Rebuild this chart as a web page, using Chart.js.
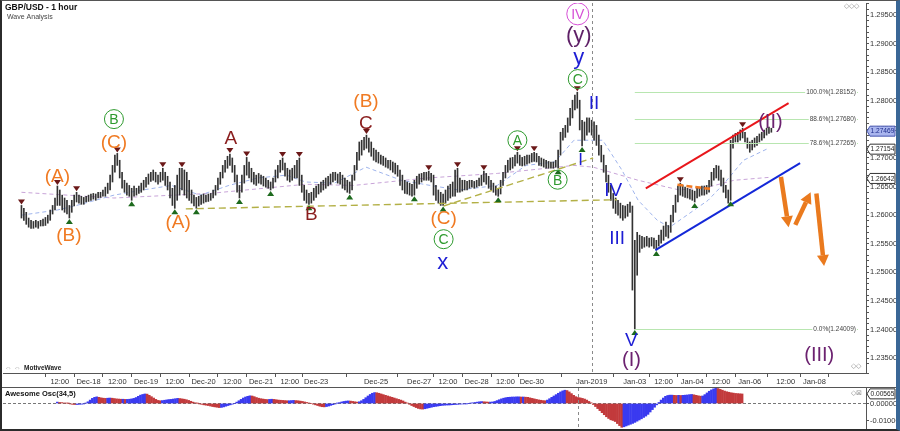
<!DOCTYPE html>
<html>
<head>
<meta charset="utf-8">
<script src="https://cdn.jsdelivr.net/npm/chart.js@4.4.1/dist/chart.umd.min.js"></script>
<style>
  body { margin: 0; background: #fff; }
  #wrap { position: relative; width: 900px; height: 431px; overflow: hidden; background: #fff; }
  #main { position: absolute; left: 0; top: 0; }
  #osc { position: absolute; left: 0; top: 387px; }
  #frame { position: absolute; left: 0; top: 0; width: 900px; height: 431px; box-sizing: border-box;
           border-left: 2px solid #2b2b2b; border-top: 1px solid #555; border-bottom: 2px solid #2b2b2b;
           border-right: 4px solid #3a6796; pointer-events: none; }
</style>
</head>
<body>
<div id="wrap">
  <canvas id="main" width="900" height="387"></canvas>
  <canvas id="osc" width="900" height="44"></canvas>
  <div id="frame"></div>
</div>
<script>
// GBP/USD 1 hour bars, one per hour, index 0 = first bar on the left
const highs = [
  1.2617,1.2612,1.2605,1.2595,1.2591,1.2589,1.2591,1.2589,1.2591,1.2593,
  1.2596,1.2600,1.2609,1.2617,1.2630,1.2651,1.2644,1.2635,1.2630,1.2626,
  1.2617,1.2626,1.2635,1.2640,1.2635,1.2633,1.2631,1.2633,1.2635,1.2637,
  1.2638,1.2637,1.2640,1.2640,1.2644,1.2649,1.2656,1.2670,1.2687,1.2705,
  1.2708,1.2696,1.2675,1.2661,1.2656,1.2652,1.2647,1.2651,1.2647,1.2651,
  1.2656,1.2661,1.2666,1.2672,1.2675,1.2679,1.2675,1.2670,1.2675,1.2682,
  1.2675,1.2668,1.2658,1.2647,1.2652,1.2670,1.2682,1.2682,1.2679,1.2675,
  1.2661,1.2644,1.2635,1.2631,1.2633,1.2635,1.2637,1.2635,1.2637,1.2638,
  1.2644,1.2652,1.2665,1.2675,1.2687,1.2696,1.2703,1.2707,1.2700,1.2687,
  1.2670,1.2652,1.2670,1.2687,1.2701,1.2693,1.2682,1.2675,1.2670,1.2673,
  1.2670,1.2668,1.2665,1.2661,1.2658,1.2665,1.2679,1.2687,1.2696,1.2700,
  1.2691,1.2682,1.2679,1.2682,1.2687,1.2696,1.2700,1.2670,1.2652,1.2644,
  1.2638,1.2640,1.2647,1.2651,1.2654,1.2658,1.2661,1.2665,1.2668,1.2672,
  1.2675,1.2675,1.2672,1.2675,1.2670,1.2665,1.2661,1.2658,1.2670,1.2687,
  1.2710,1.2728,1.2731,1.2736,1.2740,1.2735,1.2728,1.2717,1.2714,1.2710,
  1.2705,1.2703,1.2700,1.2696,1.2696,1.2693,1.2691,1.2687,1.2679,1.2670,
  1.2661,1.2658,1.2656,1.2654,1.2661,1.2668,1.2672,1.2673,1.2675,1.2675,
  1.2677,1.2673,1.2670,1.2652,1.2644,1.2640,1.2637,1.2644,1.2651,1.2654,
  1.2658,1.2679,1.2682,1.2665,1.2661,1.2661,1.2659,1.2661,1.2661,1.2659,
  1.2661,1.2665,1.2670,1.2677,1.2673,1.2668,1.2661,1.2656,1.2651,1.2647,
  1.2661,1.2675,1.2687,1.2696,1.2700,1.2701,1.2705,1.2710,1.2705,1.2701,
  1.2703,1.2705,1.2705,1.2708,1.2710,1.2708,1.2703,1.2700,1.2698,1.2696,
  1.2694,1.2693,1.2693,1.2696,1.2714,1.2745,1.2752,1.2757,1.2770,1.2787,
  1.2801,1.2810,1.2815,1.2801,1.2766,1.2763,1.2770,1.2770,1.2766,1.2763,
  1.2757,1.2740,1.2722,1.2705,1.2687,1.2670,1.2652,1.2638,1.2630,1.2626,
  1.2621,1.2617,1.2616,1.2619,1.2623,1.2616,1.2556,1.2570,1.2565,1.2563,
  1.2561,1.2563,1.2560,1.2561,1.2560,1.2556,1.2565,1.2574,1.2581,1.2588,
  1.2582,1.2600,1.2617,1.2635,1.2651,1.2656,1.2652,1.2649,1.2647,1.2645,
  1.2644,1.2642,1.2647,1.2649,1.2651,1.2651,1.2652,1.2661,1.2675,1.2682,
  1.2687,1.2686,1.2679,1.2665,1.2652,1.2644,1.2731,1.2740,1.2743,1.2745,
  1.2749,1.2752,1.2745,1.2735,1.2728,1.2731,1.2735,1.2738,1.2742,1.2745,
  1.2749,1.2752,1.2754,1.2752
];
const lows = [
  1.2595,1.2591,1.2584,1.2579,1.2577,1.2577,1.2579,1.2577,1.2581,1.2581,
  1.2582,1.2586,1.2591,1.2602,1.2609,1.2617,1.2617,1.2609,1.2605,1.2602,
  1.2595,1.2605,1.2616,1.2623,1.2621,1.2619,1.2619,1.2623,1.2624,1.2626,
  1.2628,1.2626,1.2630,1.2631,1.2633,1.2633,1.2638,1.2644,1.2658,1.2675,
  1.2687,1.2665,1.2647,1.2640,1.2635,1.2633,1.2626,1.2633,1.2635,1.2638,
  1.2640,1.2644,1.2649,1.2654,1.2659,1.2661,1.2658,1.2654,1.2658,1.2661,
  1.2652,1.2644,1.2630,1.2617,1.2612,1.2626,1.2635,1.2644,1.2635,1.2630,
  1.2626,1.2621,1.2616,1.2612,1.2616,1.2619,1.2621,1.2623,1.2624,1.2626,
  1.2630,1.2635,1.2644,1.2654,1.2665,1.2675,1.2682,1.2687,1.2675,1.2658,
  1.2640,1.2630,1.2640,1.2656,1.2670,1.2665,1.2658,1.2654,1.2652,1.2656,
  1.2654,1.2651,1.2649,1.2647,1.2644,1.2647,1.2658,1.2665,1.2675,1.2679,
  1.2668,1.2661,1.2658,1.2661,1.2665,1.2665,1.2652,1.2640,1.2626,1.2621,
  1.2619,1.2621,1.2626,1.2631,1.2637,1.2640,1.2644,1.2647,1.2651,1.2654,
  1.2658,1.2661,1.2656,1.2654,1.2647,1.2644,1.2640,1.2638,1.2644,1.2661,
  1.2679,1.2696,1.2705,1.2714,1.2717,1.2710,1.2703,1.2696,1.2693,1.2691,
  1.2689,1.2687,1.2684,1.2682,1.2679,1.2675,1.2672,1.2668,1.2652,1.2644,
  1.2638,1.2637,1.2635,1.2633,1.2635,1.2647,1.2654,1.2658,1.2661,1.2661,
  1.2661,1.2658,1.2635,1.2626,1.2621,1.2617,1.2617,1.2621,1.2626,1.2630,
  1.2633,1.2633,1.2640,1.2640,1.2642,1.2644,1.2644,1.2647,1.2649,1.2647,
  1.2649,1.2651,1.2652,1.2658,1.2654,1.2647,1.2644,1.2640,1.2635,1.2633,
  1.2637,1.2652,1.2665,1.2675,1.2679,1.2682,1.2686,1.2691,1.2687,1.2686,
  1.2687,1.2689,1.2691,1.2693,1.2694,1.2693,1.2687,1.2686,1.2684,1.2682,
  1.2682,1.2682,1.2682,1.2684,1.2682,1.2705,1.2731,1.2736,1.2745,1.2757,
  1.2770,1.2784,1.2787,1.2749,1.2721,1.2731,1.2740,1.2745,1.2740,1.2731,
  1.2722,1.2705,1.2693,1.2675,1.2658,1.2640,1.2626,1.2612,1.2603,1.2600,
  1.2595,1.2591,1.2595,1.2598,1.2605,1.2469,1.2401,1.2495,1.2535,1.2542,
  1.2544,1.2546,1.2544,1.2546,1.2542,1.2539,1.2546,1.2551,1.2556,1.2563,
  1.2560,1.2570,1.2588,1.2605,1.2623,1.2635,1.2633,1.2631,1.2630,1.2628,
  1.2626,1.2623,1.2630,1.2633,1.2635,1.2635,1.2637,1.2640,1.2651,1.2661,
  1.2665,1.2661,1.2651,1.2640,1.2630,1.2621,1.2626,1.2717,1.2728,1.2728,
  1.2731,1.2735,1.2728,1.2717,1.2710,1.2714,1.2719,1.2722,1.2728,1.2731,
  1.2735,1.2740,1.2743,1.2745
];

// Awesome Oscillator (34,5), one value per bar
const ao = [
  0.0008,0.0006,0.0005,0.0003,0.0002,0.0001,
  -0.0003,-0.0005,-0.0006,-0.0006,-0.0005,-0.0004,-0.0002,
  0.0002,0.0010,0.0020,0.0030,0.0036,
  0.0039,
  0.0036,0.0033,0.0031,0.0030,0.0031,
  0.0032,0.0031,0.0029,0.0027,
  0.0026,0.0025,0.0025,0.0024,0.0024,0.0025,
  0.0027,0.0030,0.0035,0.0042,0.0049,
  0.0053,0.0056,0.0055,
  0.0048,0.0040,0.0032,0.0024,0.0018,
  0.0016,0.0017,0.0019,0.0021,0.0023,0.0024,
  0.0026,0.0028,0.0030,0.0029,0.0027,
  0.0025,0.0022,0.0018,0.0013,0.0008,0.0004,
  0.0001,-0.0002,-0.0005,-0.0008,-0.0010,-0.0012,
  -0.0015,-0.0018,-0.0020,-0.0022,-0.0024,-0.0023,-0.0020,
  -0.0016,-0.0012,-0.0008,-0.0004,0.0000,
  0.0008,0.0016,0.0024,0.0032,
  0.0038,0.0042,0.0045,0.0044,0.0040,
  0.0035,0.0031,0.0028,0.0026,0.0024,0.0023,
  0.0024,0.0025,0.0024,0.0022,
  0.0020,0.0019,0.0018,0.0017,0.0016,0.0016,0.0017,0.0018,0.0017,0.0016,
  0.0014,0.0012,0.0009,0.0006,0.0003,0.0000,-0.0004,
  -0.0008,-0.0012,-0.0016,-0.0019,-0.0020,-0.0018,-0.0015,
  -0.0011,-0.0007,-0.0003,0.0001,0.0005,0.0009,
  0.0012,0.0014,0.0015,0.0014,0.0012,0.0010,0.0008,
  0.0010,0.0016,0.0024,0.0034,0.0044,0.0053,0.0060,0.0064,
  0.0063,0.0060,0.0056,0.0052,0.0048,
  0.0044,0.0040,0.0036,0.0032,0.0028,0.0024,0.0020,0.0015,
  0.0008,0.0002,-0.0005,-0.0012,-0.0018,-0.0024,
  -0.0029,-0.0032,-0.0033,-0.0031,-0.0028,-0.0025,
  -0.0022,-0.0019,-0.0017,-0.0015,-0.0013,-0.0011,-0.0010,-0.0009,
  -0.0009,-0.0008,-0.0007,-0.0006,-0.0005,-0.0004,-0.0003,-0.0002,
  -0.0001,0.0000,0.0002,0.0004,0.0006,0.0008,0.0010,
  0.0011,0.0010,0.0009,0.0008,0.0008,0.0009,
  0.0012,0.0017,0.0022,0.0027,0.0031,0.0034,0.0036,
  0.0037,0.0038,0.0038,0.0039,0.0039,0.0038,0.0038,0.0037,0.0036,
  0.0033,0.0030,0.0027,0.0024,0.0021,0.0019,0.0017,0.0016,
  0.0020,0.0028,0.0036,0.0044,0.0052,0.0060,0.0068,0.0074,0.0078,
  0.0076,0.0068,0.0058,0.0048,0.0040,0.0035,
  0.0033,0.0030,0.0026,0.0020,0.0012,0.0004,
  -0.0006,-0.0018,-0.0030,-0.0042,-0.0054,-0.0066,-0.0078,-0.0088,
  -0.0096,-0.0100,-0.0106,-0.0118,-0.0130,-0.0140,
  -0.0137,-0.0132,-0.0127,-0.0122,
  -0.0117,-0.0111,-0.0104,-0.0097,-0.0090,-0.0082,-0.0074,-0.0064,
  -0.0050,-0.0036,-0.0022,-0.0008,0.0006,0.0020,
  0.0032,0.0042,0.0047,0.0049,0.0049,0.0048,
  0.0047,0.0048,0.0047,0.0048,0.0049,0.0050,0.0052,0.0053,
  0.0051,0.0048,0.0045,0.0043,0.0044,
  0.0052,0.0062,0.0072,0.0080,0.0086,0.0090,
  0.0088,0.0083,0.0078,0.0073,0.0069,0.0066,
  0.0063,0.0061,0.0059,0.0058,0.0057,0.0056
];

// moving averages: [bar index, price]
const fastMa = [
  [0, 1.2600], [15, 1.2609], [23, 1.2617], [38.6, 1.2635], [50.6, 1.2644], [62.6, 1.2652], [74.6, 1.2635],
  [86.6, 1.2652], [98.6, 1.2665], [110.6, 1.2670], [118.6, 1.2658], [130.6, 1.2656], [143.8, 1.2684],
  [158.6, 1.2661], [170.6, 1.2652], [182.6, 1.2644], [198.6, 1.2652], [210.6, 1.2687], [222.6, 1.2693],
  [230.6, 1.2731], [242.6, 1.2731], [250.6, 1.2679], [257.4, 1.2626], [265.4, 1.2591], [270.6, 1.2579],
  [286.6, 1.2626], [293.4, 1.2656], [301.4, 1.2696], [311.8, 1.2717]
];
const slowMa = [
  [0, 1.2640], [38.6, 1.2630], [78.6, 1.2638], [118.6, 1.2654], [138.6, 1.2652], [169.4, 1.2665],
  [198.6, 1.2673], [230.6, 1.2687], [238.6, 1.2684], [257.4, 1.2661], [274.6, 1.2644], [286.6, 1.2649],
  [297.4, 1.2661], [311.8, 1.2666]
];

// time axis: bar index of each labelled tick and its text
const tickPos = [16, 28, 40, 52, 64, 76, 88, 100, 112, 123, 148, 166, 178, 190, 202, 213, 238, 256, 268, 280, 292, 304, 319, 331];
const tickLabels = ['12:00', 'Dec-18', '12:00', 'Dec-19', '12:00', 'Dec-20', '12:00', 'Dec-21', '12:00', 'Dec-23',
  'Dec-25', 'Dec-27', '12:00', 'Dec-28', '12:00', 'Dec-30', 'Jan-2019', 'Jan-03', '12:00', 'Jan-04', '12:00',
  'Jan-06', '12:00', 'Jan-08'];
const newYearIdx = 238;

// swing markers (bar indexes)
const peakIdx = [0, 15, 23, 40, 59, 67, 87, 94, 109, 116, 144, 170, 182, 193, 207, 214, 232, 275, 301];
const troughIdx = [20, 46, 64, 73, 91, 104, 120, 137, 164, 176, 199, 224, 234, 256, 265, 281, 296];

// Fibonacci retracement levels
const fibNames = ['100.0%', '88.6%', '78.6%', '0.0%'];
const fibLevels = [1.28152, 1.27680, 1.27265, 1.24009];
const fibStart = 256;

// price boxes on the right axis
const axisMarks = [1.27469, 1.27154, 1.26642];
const aoMark = 0.00565;

// wave labels: text, bar index, price, style
const waves = [
  ['(A)', 15, 1.2669, 'orange'], ['(B)', 19.8, 1.2565, 'orange'], ['(C)', 38.6, 1.2728, 'orange'],
  ['B', 38.6, 1.2768, 'green'], ['(A)', 65.4, 1.2588, 'orange'], ['A', 87.4, 1.2735, 'maroon'],
  ['B', 121, 1.2602, 'maroon'], ['(B)', 143.8, 1.2800, 'orange'], ['C', 143.8, 1.2761, 'maroon'],
  ['(C)', 176.2, 1.2595, 'orange'], ['C', 176.2, 1.2558, 'green'], ['x', 175.8, 1.2518, 'blueBig'],
  ['A', 207, 1.2731, 'green'], ['B', 223.8, 1.2662, 'green'], ['C', 232.2, 1.2838, 'green'],
  ['y', 232.6, 1.2877, 'blueBig'], ['(y)', 232.6, 1.2915, 'purpleBig'], ['IV', 232.2, 1.2952, 'pink'],
  ['I', 233.4, 1.2697, 'blueSmall'], ['II', 239, 1.2796, 'blue'], ['IV', 247, 1.2644, 'blue'],
  ['III', 248.6, 1.2560, 'blue'], ['V', 254.6, 1.2382, 'blue'], ['(I)', 254.6, 1.2347, 'purple'],
  ['(II)', 312.6, 1.2763, 'purple'], ['(III)', 333, 1.2356, 'purple']
];

// drawn trend lines: [index1, price1, index2, price2]
const oliveLines = [[68.6, 1.2611, 248.6, 1.2627], [176.2, 1.2616, 238.6, 1.2700]];
const redLine = [260.6, 1.2647, 320.2, 1.2796];
const blueLine = [264.6, 1.2539, 325, 1.2691];
const orangeDash = [273.8, 1.2653, 287.4, 1.2646];
const arrows = [[317, 1.2667, 320.2, 1.2579], [323, 1.2583, 329.4, 1.2640], [331.8, 1.2638, 335, 1.2511]];

const FONT = '"Liberation Sans", Arial, sans-serif';
const styles = {
  orange: { color: '#f07a22', size: 19 },
  maroon: { color: '#8a1d1d', size: 19 },
  green: { color: '#2e9a2e', size: 14, circle: 9.5 },
  blue: { color: '#1d1dd4', size: 19 },
  blueSmall: { color: '#1d1dd4', size: 17 },
  blueBig: { color: '#1d1dd4', size: 22 },
  purple: { color: '#6c2270', size: 20 },
  purpleBig: { color: '#5e1f66', size: 22 },
  pink: { color: '#d64fd6', size: 14, circle: 11 }
};

function seg(ctx, x1, y1, x2, y2, color, w, dash) {
  ctx.save();
  ctx.strokeStyle = color; ctx.lineWidth = w; ctx.setLineDash(dash || []);
  ctx.beginPath(); ctx.moveTo(x1, y1); ctx.lineTo(x2, y2); ctx.stroke();
  ctx.restore();
}

function arrow(ctx, x1, y1, x2, y2, color) {
  const ang = Math.atan2(y2 - y1, x2 - x1);
  const hl = 11, hw = 6;
  const bx = x2 - hl * Math.cos(ang), by = y2 - hl * Math.sin(ang);
  seg(ctx, x1, y1, bx, by, color, 4.5);
  ctx.fillStyle = color;
  ctx.beginPath();
  ctx.moveTo(x2, y2);
  ctx.lineTo(bx + hw * Math.sin(ang), by - hw * Math.cos(ang));
  ctx.lineTo(bx - hw * Math.sin(ang), by + hw * Math.cos(ang));
  ctx.closePath(); ctx.fill();
}

function axisBox(ctx, x, y, text, fill, stroke, textColor) {
  ctx.save();
  ctx.fillStyle = fill; ctx.strokeStyle = stroke; ctx.lineWidth = 1;
  ctx.beginPath();
  ctx.moveTo(x, y); ctx.lineTo(x + 3, y - 5); ctx.lineTo(x + 28, y - 5);
  ctx.lineTo(x + 28, y + 5); ctx.lineTo(x + 3, y + 5); ctx.closePath();
  ctx.fill(); ctx.stroke();
  ctx.fillStyle = textColor; ctx.font = '6.6px ' + FONT;
  ctx.textAlign = 'left'; ctx.textBaseline = 'middle';
  ctx.fillText(text, x + 3.5, y + 0.5);
  ctx.restore();
}

const overlay = {
  id: 'overlay',
  beforeDatasetsDraw(chart) {
    const { ctx, chartArea: a, scales } = chart;
    const X = v => scales.x.getPixelForValue(v), Y = v => scales.y.getPixelForValue(v);
    ctx.save();
    ctx.beginPath(); ctx.rect(a.left, a.top, a.right - a.left, a.bottom - a.top); ctx.clip();
    // moving averages behind the bars
    [[slowMa, '#c8a4d8'], [fastMa, '#9fb4ec']].forEach(([pts, col]) => {
      ctx.strokeStyle = col; ctx.lineWidth = 1; ctx.setLineDash([4, 3]);
      ctx.beginPath();
      pts.forEach(([i, p], k) => (k ? ctx.lineTo(X(i), Y(p)) : ctx.moveTo(X(i), Y(p))));
      ctx.stroke();
    });
    ctx.restore();
  },
  afterDatasetsDraw(chart) {
    const { ctx, chartArea: a, scales } = chart;
    const X = v => scales.x.getPixelForValue(v), Y = v => scales.y.getPixelForValue(v);
    ctx.save();
    ctx.beginPath(); ctx.rect(a.left, a.top, a.right - a.left, a.bottom - a.top); ctx.clip();

    // new year separator
    seg(ctx, Math.round(X(newYearIdx)) + 0.5, a.top, Math.round(X(newYearIdx)) + 0.5, a.bottom, '#8a8a8a', 1, [3, 3]);

    // fib levels
    fibLevels.forEach((lv, k) => {
      const yy = Math.round(Y(lv)) + 0.5;
      seg(ctx, X(fibStart), yy, a.right - 8, yy, '#b8e6b0', 1);
      const txt = fibNames[k] + '(' + lv.toFixed(5) + ')';
      ctx.font = '6.5px ' + FONT;
      const w = ctx.measureText(txt).width;
      ctx.fillStyle = '#fff';
      ctx.fillRect(a.right - 11 - w, yy - 4, w + 2, 8);
      ctx.fillStyle = '#444'; ctx.textAlign = 'right'; ctx.textBaseline = 'middle';
      ctx.fillText(txt, a.right - 10, yy);
    });

    // trend lines
    oliveLines.forEach(l => seg(ctx, X(l[0]), Y(l[1]), X(l[2]), Y(l[3]), '#b3b046', 1.4, [7, 4]));
    seg(ctx, X(redLine[0]), Y(redLine[1]), X(redLine[2]), Y(redLine[3]), '#e8161b', 2);
    seg(ctx, X(blueLine[0]), Y(blueLine[1]), X(blueLine[2]), Y(blueLine[3]), '#1428d8', 2);
    seg(ctx, X(orangeDash[0]), Y(orangeDash[1]), X(orangeDash[2]), Y(orangeDash[3]), '#f07a22', 2.5, [6, 3]);
    arrows.forEach(r => arrow(ctx, X(r[0]), Y(r[1]), X(r[2]), Y(r[3]), '#ea7a1e'));

    // swing markers
    ctx.fillStyle = '#6b1818';
    peakIdx.forEach(i => {
      const px = X(i), py = Y(highs[i]) - 1;
      ctx.beginPath(); ctx.moveTo(px - 3.5, py - 5); ctx.lineTo(px + 3.5, py - 5); ctx.lineTo(px, py); ctx.closePath(); ctx.fill();
    });
    ctx.fillStyle = '#1d6a1d';
    troughIdx.forEach(i => {
      const px = X(i), py = Y(lows[i]) + 1;
      ctx.beginPath(); ctx.moveTo(px - 3.5, py + 5); ctx.lineTo(px + 3.5, py + 5); ctx.lineTo(px, py); ctx.closePath(); ctx.fill();
    });

    // wave labels
    waves.forEach(([t, i, p, s]) => {
      const st = styles[s], px = X(i), py = Y(p);
      if (st.circle) {
        ctx.strokeStyle = st.color; ctx.lineWidth = 1;
        ctx.beginPath(); ctx.arc(px, py, st.circle, 0, Math.PI * 2); ctx.stroke();
      }
      ctx.fillStyle = st.color; ctx.font = st.size + 'px ' + FONT;
      ctx.textAlign = 'center'; ctx.textBaseline = 'middle';
      ctx.fillText(t, px, py + 1);
    });
    ctx.restore();
  },
  afterDraw(chart) {
    const { ctx, chartArea: a, scales } = chart;
    const Y = v => scales.y.getPixelForValue(v);
    ctx.save();
    ctx.fillStyle = '#111'; ctx.font = 'bold 8.5px ' + FONT;
    ctx.textAlign = 'left'; ctx.textBaseline = 'middle';
    ctx.fillText('GBP/USD - 1 hour', 5, 8);
    ctx.fillStyle = '#444'; ctx.font = '7px ' + FONT;
    ctx.fillText('Wave Analysis', 7, 17);
    ctx.fillStyle = '#222'; ctx.font = 'bold 6.5px ' + FONT;
    ctx.fillText('MotiveWave', 24, a.bottom - 5);
    ctx.fillStyle = '#999'; ctx.font = '7px ' + FONT;
    ctx.fillText('\u21D4 \u21D4', 5, a.bottom - 5);
    ctx.fillText('\u25C7\u25C7\u25C7', a.right - 22, 6);
    ctx.fillText('\u25C7\u25C7', a.right - 15, a.bottom - 7);
    axisBox(ctx, a.right + 1, Y(axisMarks[0]), axisMarks[0].toFixed(5), '#a9b5ee', '#4756b0', '#1b2a8a');
    axisBox(ctx, a.right + 1, Y(axisMarks[1]), axisMarks[1].toFixed(5), '#fff', '#333', '#222');
    axisBox(ctx, a.right + 1, Y(axisMarks[2]), axisMarks[2].toFixed(5), '#fff', '#333', '#222');
    ctx.restore();
  }
};

const priceBars = highs.map((h, i) => ({ x: i, y: [lows[i], h] }));

new Chart(document.getElementById('main'), {
  type: 'bar',
  data: { datasets: [{ data: priceBars, backgroundColor: '#333', barThickness: 1, grouped: false }] },
  options: {
    responsive: false, animation: false, devicePixelRatio: 1,
    layout: { padding: { left: 3, right: 4, top: 3, bottom: 0 } },
    plugins: { legend: { display: false }, tooltip: { enabled: false } },
    scales: {
      x: {
        type: 'linear', min: -0.2, max: 345,
        grid: { drawOnChartArea: false, tickLength: 4, color: '#555' },
        border: { color: '#555' },
        afterBuildTicks: s => { s.ticks = tickPos.map(v => ({ value: v })); },
        afterFit: s => { s.height = 14; s.paddingLeft = 0; s.paddingRight = 0; },
        ticks: { autoSkip: false, maxRotation: 0, padding: 0, color: '#333', font: { size: 7.5, family: FONT },
                 callback: (v, i) => tickLabels[i] }
      },
      y: {
        position: 'right', min: 1.2324, max: 1.2971,
        grid: { drawOnChartArea: false, tickLength: 3, color: '#555' },
        border: { color: '#555' },
        afterFit: s => { s.width = 30; s.paddingTop = 0; s.paddingBottom = 0; },
        ticks: { stepSize: 0.001, autoSkip: false, padding: 1, color: '#333', font: { size: 7.5, family: FONT },
                 callback: v => (Math.round(v * 1000) % 5 === 0 ? v.toFixed(5) : '') }
      }
    }
  },
  plugins: [overlay]
});

// oscillator panel
const aoBars = ao.map((v, i) => ({ x: i, y: v }));
const aoColors = ao.map((v, i) => (i > 0 && v < ao[i - 1] ? '#c23a3c' : '#3a3af0'));

const oscOverlay = {
  id: 'oscOverlay',
  beforeDatasetsDraw(chart) {
    const { ctx, chartArea: a, scales } = chart;
    const z = Math.round(scales.y.getPixelForValue(0)) + 0.5;
    seg(ctx, a.left, z, a.right, z, '#777', 1, [3, 2]);
  },
  afterDraw(chart) {
    const { ctx, chartArea: a, scales } = chart;
    const x = Math.round(scales.x.getPixelForValue(newYearIdx)) + 0.5;
    seg(ctx, x, a.top, x, a.bottom, '#8a8a8a', 1, [3, 3]);
    seg(ctx, 0, 0.5, 900, 0.5, '#555', 1);
    ctx.save();
    ctx.fillStyle = '#111'; ctx.font = 'bold 7.5px ' + FONT;
    ctx.textAlign = 'left'; ctx.textBaseline = 'middle';
    ctx.fillText('Awesome Osc(34,5)', 5, 7);
    ctx.fillStyle = '#999'; ctx.font = '7px ' + FONT;
    ctx.fillText('\u25C7\u22A0', a.right - 15, 6);
    ctx.restore();
    axisBox(ctx, a.right + 1, scales.y.getPixelForValue(aoMark), aoMark.toFixed(5), '#fff', '#333', '#222');
  }
};

new Chart(document.getElementById('osc'), {
  type: 'bar',
  data: { datasets: [{ data: aoBars, backgroundColor: aoColors, barThickness: 2, grouped: false }] },
  options: {
    responsive: false, animation: false, devicePixelRatio: 1,
    layout: { padding: { left: 3, right: 4, top: 1, bottom: 2 } },
    plugins: { legend: { display: false }, tooltip: { enabled: false } },
    scales: {
      x: { type: 'linear', min: -0.2, max: 345, display: false },
      y: {
        position: 'right', min: -0.0150, max: 0.0091,
        grid: { drawOnChartArea: false, tickLength: 3, color: '#555' },
        border: { color: '#555' },
        afterBuildTicks: s => { s.ticks = [{ value: -0.01 }, { value: 0 }]; },
        afterFit: s => { s.width = 30; s.paddingTop = 0; s.paddingBottom = 0; },
        ticks: { autoSkip: false, padding: 1, color: '#333', font: { size: 7.5, family: FONT },
                 callback: v => v.toFixed(5) }
      }
    }
  },
  plugins: [oscOverlay]
});
</script>
</body>
</html>
